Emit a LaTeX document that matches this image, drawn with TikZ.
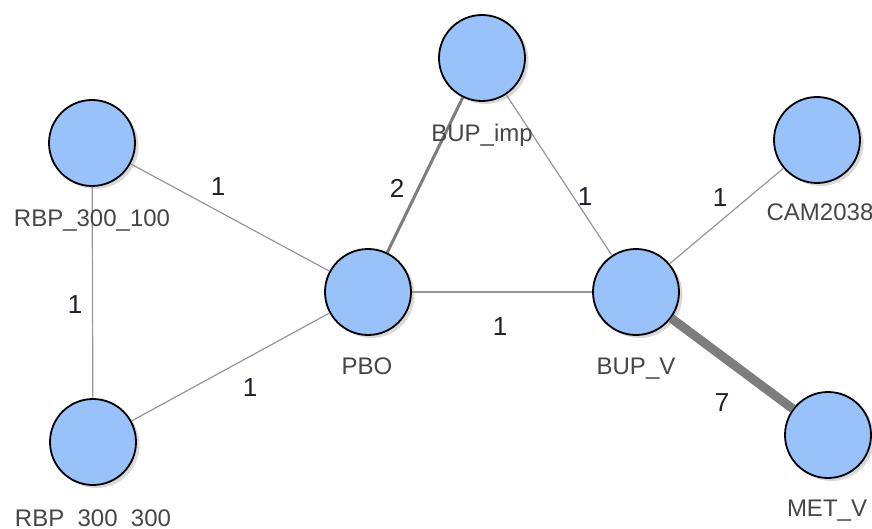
\documentclass[tikz,border=0pt]{standalone}
\usepackage{fontspec}
\setmainfont{Liberation Sans}
\usetikzlibrary{shadows}
\definecolor{nodeblue}{RGB}{153,194,250}
\definecolor{edgegray}{RGB}{150,150,150}
\definecolor{darkgray}{RGB}{125,125,125}
\definecolor{lblgray}{RGB}{70,70,70}
\definecolor{wtblue}{RGB}{30,30,45}

\begin{document}
\begin{tikzpicture}[x=1pt,y=-1pt,
  vert/.style={circle, draw=black, line width=1.8pt, fill=nodeblue, minimum size=86pt, inner sep=0pt,
    drop shadow={shadow xshift=3.5pt, shadow yshift=-3pt, opacity=0.3}},
  lbl/.style={anchor=base, text=lblgray, inner sep=0pt, font=\fontsize{24}{26}\selectfont},
  wt/.style={text=wtblue, inner sep=0pt, font=\fontsize{26}{28}\selectfont},
  edge/.style={draw=edgegray, line width=1.2pt}]
  \useasboundingbox (0,0) rectangle (872,529);

  % vertices
  \node[vert] (bupimp) at (482,58) {};
  \node[vert] (r100) at (92,143) {};
  \node[vert] (cam) at (817,140) {};
  \node[vert] (pbo) at (368,292) {};
  \node[vert] (bupv) at (636,292) {};
  \node[vert] (r300) at (93,442) {};
  \node[vert] (metv) at (828,435) {};

  % edges
  \draw[edge] (r100) -- (pbo);
  \draw[edge] (r100) -- (r300);
  \draw[edge] (r300) -- (pbo);
  \draw[edge, draw=darkgray, line width=3pt] (pbo) -- (bupimp);
  \draw[edge] (bupimp) -- (bupv);
  \draw[edge] (pbo) -- (bupv);
  \draw[edge] (bupv) -- (cam);
  \draw[edge, draw=darkgray, line width=9pt] (bupv) -- (metv);

  % names
  \node[lbl] (bupimp-t) at (482,142) {BUP\_imp};
  \node[lbl] (r100-t) at (92,227) {RBP\_300\_100};
  \node[lbl] (cam-t) at (820,221) {CAM2038};
  \node[lbl] (pbo-t) at (367,374) {PBO};
  \node[lbl] (bupv-t) at (636,374) {BUP\_V};
  \node[lbl] (r300-t) at (93,526) {RBP\_300\_300};
  \node[lbl] (metv-t) at (827,516) {MET\_V};

  % weights
  \node[wt] (w1) at (218,187) {1};
  \node[wt] (w2) at (75,305) {1};
  \node[wt] (w3) at (250,388) {1};
  \node[wt] (w4) at (397,188) {2};
  \node[wt] (w5) at (585,197) {1};
  \node[wt] (w6) at (720,198) {1};
  \node[wt] (w7) at (500,327) {1};
  \node[wt] (w8) at (722,403) {7};
\end{tikzpicture}
\end{document}
